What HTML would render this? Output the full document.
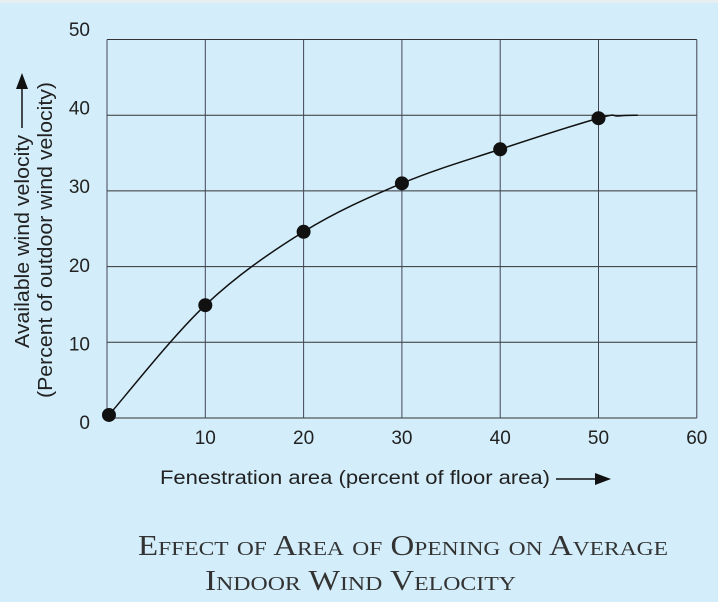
<!DOCTYPE html>
<html><head><meta charset="utf-8"><style>
html,body{margin:0;padding:0;background:#fff}
svg{display:block}
</style></head><body>
<svg id="chart" width="718" height="602" viewBox="0 0 718 602" xmlns="http://www.w3.org/2000/svg">
<rect x="0" y="2" width="718" height="600" fill="#d3eefa"/>
<rect x="0" y="0" width="718" height="3" fill="#e6eef2"/>
<g id="grid"></g>
<g id="ticks" font-family="Liberation Sans, sans-serif" font-size="19" fill="#222"></g>
<path id="curve" fill="none" stroke="#111" stroke-width="1.5"/>
<g id="points"></g>
<g font-family="Liberation Sans, sans-serif" font-size="20" fill="#222">
<text transform="translate(29,348) rotate(-90)" textLength="213" lengthAdjust="spacingAndGlyphs">Available wind velocity</text>
<line x1="22" y1="128" x2="22" y2="88" stroke="#111" stroke-width="1.5"/>
<polygon points="22,73 16,89 28,89" fill="#111"/>
<text transform="translate(52,398) rotate(-90)" textLength="316" lengthAdjust="spacingAndGlyphs">(Percent of outdoor wind velocity)</text>
</g>
<g font-family="Liberation Sans, sans-serif" font-size="19" fill="#222">
<text x="160" y="484" textLength="390" lengthAdjust="spacingAndGlyphs">Fenestration area (percent of floor area)</text>
<line x1="556" y1="479" x2="596" y2="479" stroke="#111" stroke-width="1.5"/>
<polygon points="611,479 595,473 595,485" fill="#111"/>
</g>
<g font-family="Liberation Serif, serif" fill="#333" style="font-variant:small-caps">
<text x="138" y="555" font-size="28" textLength="530" lengthAdjust="spacingAndGlyphs">Effect of Area of Opening on Average</text>
<text x="205" y="590" font-size="28" textLength="311" lengthAdjust="spacingAndGlyphs">Indoor Wind Velocity</text>
</g>
</svg>
<script>
const xTicks = [10, 20, 30, 40, 50, 60];
const yTicks = [0, 10, 20, 30, 40, 50];
const xValues = [0.2, 10, 20, 30, 40, 50];
const yValues = [0.4, 14.9, 24.6, 31.0, 35.5, 39.6];
const tailX = [52, 54];
const tailY = [39.9, 40];

const NS = 'http://www.w3.org/2000/svg';
const x = v => 107 + v * 9.83;
const y = v => 418 - v * 7.57;
const yLab = v => 422 - v * 7.86;
const grid = document.getElementById('grid');
const ticks = document.getElementById('ticks');
function mk(tag, attrs, parent) {
  const e = document.createElementNS(NS, tag);
  for (const k in attrs) e.setAttribute(k, attrs[k]);
  parent.appendChild(e);
  return e;
}
yTicks.forEach(v => {
  const l = mk('line', {x1: x(0), x2: x(60), y1: y(v), y2: y(v), stroke: '#333', 'stroke-width': 1}, grid);
  
  
  const t = mk('text', {x: 90, y: yLab(v) + 7, 'text-anchor': 'end'}, ticks);
  t.textContent = v;
  
  
});
[0].concat(xTicks).forEach(v => {
  const l = mk('line', {x1: x(v), x2: x(v), y1: y(0), y2: y(50), stroke: '#445', 'stroke-width': 1}, grid);
  
  
});
xTicks.forEach(v => {
  const t = mk('text', {x: x(v), y: 444, 'text-anchor': 'middle'}, ticks);
  t.textContent = v;
  
  
});
const px = xValues.concat(tailX).map(x), py = yValues.concat(tailY).map(y);
let d = 'M' + px[0] + ',' + py[0];
for (let i = 0; i < px.length - 1; i++) {
  const i0 = Math.max(0, i - 1), i2 = i + 1, i3 = Math.min(px.length - 1, i + 2);
  const c1x = px[i] + (px[i2] - px[i0]) / 6, c1y = py[i] + (py[i2] - py[i0]) / 6;
  const c2x = px[i2] - (px[i3] - px[i]) / 6, c2y = py[i2] - (py[i3] - py[i]) / 6;
  d += ' C' + c1x + ',' + c1y + ' ' + c2x + ',' + c2y + ' ' + px[i2] + ',' + py[i2];
}
document.getElementById('curve').setAttribute('d', d);
const pts = document.getElementById('points');
xValues.forEach((v, i) => {
  const c = mk('circle', {cx: x(v), cy: y(yValues[i]), r: 7, fill: '#111'}, pts);
  
  
});
</script>
</body></html>
